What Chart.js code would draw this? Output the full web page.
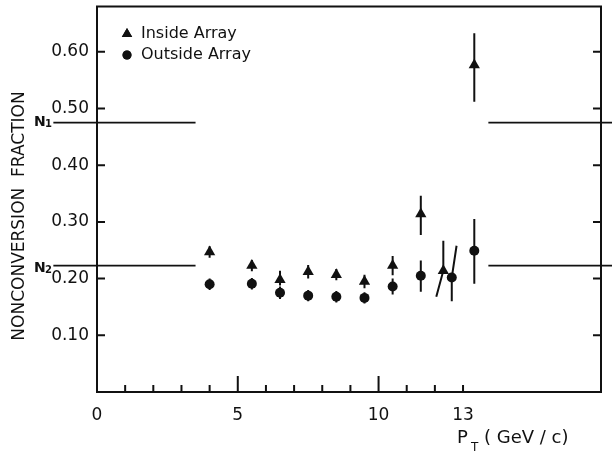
<!DOCTYPE html>
<html>
<head>
<meta charset="utf-8">
<script src="https://cdn.jsdelivr.net/npm/chart.js@4/dist/chart.umd.min.js"></script>
<style>
  html, body { margin: 0; padding: 0; background: #fff; }
  #wrap { width: 612px; height: 453px; }
</style>
</head>
<body>
<div id="wrap"><canvas id="frac" width="612" height="453"></canvas></div>
<script>
// nonconversion fraction vs transverse momentum
const insideX  = [4.0, 5.5, 6.5, 7.5, 8.5, 9.5, 10.5, 11.5, 12.3, 13.4];
const insideY  = [0.247, 0.223, 0.198, 0.212, 0.207, 0.195, 0.223, 0.314, 0.214, 0.577];
const insideLo = [0.237, 0.213, 0.188, 0.200, 0.197, 0.183, 0.206, 0.277, 0.168, 0.512];
const insideHi = [0.257, 0.233, 0.214, 0.224, 0.217, 0.207, 0.240, 0.346, 0.267, 0.633];
// x where each error bar ends (a couple are drawn slanted)
const insideLoX = [4.0, 5.5, 6.5, 7.5, 8.5, 9.5, 10.5, 11.5, 12.05, 13.4];
const insideHiX = [4.0, 5.5, 6.5, 7.5, 8.5, 9.5, 10.5, 11.5, 12.3, 13.4];

const outsideX  = [4.0, 5.5, 6.5, 7.5, 8.5, 9.5, 10.5, 11.5, 12.6, 13.4];
const outsideY  = [0.190, 0.191, 0.175, 0.170, 0.168, 0.166, 0.186, 0.205, 0.202, 0.249];
const outsideLo = [0.180, 0.181, 0.164, 0.160, 0.158, 0.156, 0.172, 0.177, 0.160, 0.191];
const outsideHi = [0.200, 0.201, 0.186, 0.180, 0.178, 0.176, 0.200, 0.232, 0.258, 0.305];
const outsideLoX = [4.0, 5.5, 6.5, 7.5, 8.5, 9.5, 10.5, 11.5, 12.6, 13.4];
const outsideHiX = [4.0, 5.5, 6.5, 7.5, 8.5, 9.5, 10.5, 11.5, 12.77, 13.4];

// reference levels N1, N2
const levelNames  = ['N', 'N'];
const levelSubs   = ['1', '2'];
const levelValues = [0.475, 0.223];

const xTickLabels = [0, 5, 10, 13];
const yTickLabels = [0.1, 0.2, 0.3, 0.4, 0.5, 0.6];

const INK = '#111';
const FONT = '"DejaVu Sans", sans-serif';

function errBars(ctx, xs, ys, lo, hi, loX, hiX, sx, sy) {
  ctx.beginPath();
  for (let i = 0; i < xs.length; i++) {
    ctx.moveTo(sx.getPixelForValue(loX[i]), sy.getPixelForValue(lo[i]));
    ctx.lineTo(sx.getPixelForValue(xs[i]), sy.getPixelForValue(ys[i]));
    ctx.lineTo(sx.getPixelForValue(hiX[i]), sy.getPixelForValue(hi[i]));
  }
  ctx.stroke();
}

const paperPlugin = {
  id: 'paper',
  beforeDatasetsDraw(chart) {
    const { ctx, scales: { x, y } } = chart;
    ctx.save();
    ctx.strokeStyle = INK;
    ctx.lineWidth = 2;
    errBars(ctx, insideX, insideY, insideLo, insideHi, insideLoX, insideHiX, x, y);
    errBars(ctx, outsideX, outsideY, outsideLo, outsideHi, outsideLoX, outsideHiX, x, y);
    ctx.restore();
  },
  afterDraw(chart) {
    const { ctx, chartArea: a, scales: { x, y } } = chart;
    ctx.save();
    ctx.strokeStyle = INK;
    ctx.fillStyle = INK;

    // frame
    ctx.lineWidth = 2;
    ctx.strokeRect(a.left, a.top, a.right - a.left, a.bottom - a.top);

    // inward ticks
    ctx.beginPath();
    for (let v = 1; v <= 13; v++) {
      const px = x.getPixelForValue(v);
      const len = v % 5 === 0 ? 16 : 7;
      ctx.moveTo(px, a.bottom);
      ctx.lineTo(px, a.bottom - len);
    }
    yTickLabels.forEach(v => {
      const py = y.getPixelForValue(v);
      ctx.moveTo(a.left, py); ctx.lineTo(a.left + 8, py);
      ctx.moveTo(a.right, py); ctx.lineTo(a.right - 8, py);
    });
    ctx.stroke();

    // level lines, broken across the data
    ctx.lineWidth = 1.8;
    ctx.beginPath();
    levelValues.forEach(v => {
      const py = y.getPixelForValue(v);
      ctx.moveTo(x.getPixelForValue(-1.55), py);
      ctx.lineTo(x.getPixelForValue(3.5), py);
      ctx.moveTo(x.getPixelForValue(13.9), py);
      ctx.lineTo(chart.width, py);
    });
    ctx.stroke();
    ctx.textBaseline = 'middle';
    levelValues.forEach((v, i) => {
      const py = y.getPixelForValue(v) + (i === 1 ? 3 : 0);
      ctx.font = 'bold 14px ' + FONT;
      ctx.textAlign = 'left';
      ctx.fillText(levelNames[i], 34, py);
      ctx.font = 'bold 10px ' + FONT;
      ctx.fillText(levelSubs[i], 45, py + 2);
    });

    // legend
    ctx.font = '16px ' + FONT;
    ctx.textAlign = 'left';
    const rows = [
      { style: 'triangle', r: 6, label: chart.data.datasets[0].label, yy: 34 },
      { style: 'circle', r: 4.5, label: chart.data.datasets[1].label, yy: 55 }
    ];
    rows.forEach(row => {
      Chart.helpers.drawPoint(ctx, { pointStyle: row.style, radius: row.r, borderWidth: 0 }, 127, row.yy);
      ctx.fill();
      ctx.fillText(row.label, 141, row.yy);
    });

    // y title
    ctx.save();
    ctx.translate(20, 216);
    ctx.rotate(-Math.PI / 2);
    ctx.textAlign = 'center';
    ctx.font = '17px ' + FONT;
    ctx.fillText('NONCONVERSION  FRACTION', 0, 0);
    ctx.restore();

    // x title with subscript
    ctx.textBaseline = 'alphabetic';
    ctx.textAlign = 'left';
    ctx.font = '18px ' + FONT;
    ctx.fillText('P', 457, 443);
    ctx.font = '12px ' + FONT;
    ctx.fillText('T', 471, 451);
    ctx.font = '18px ' + FONT;
    ctx.fillText('( GeV / c)', 484, 443);
    ctx.restore();
  }
};

new Chart(document.getElementById('frac'), {
  type: 'scatter',
  data: {
    datasets: [
      {
        label: 'Inside Array',
        data: insideX.map((v, i) => ({ x: v, y: insideY[i] })),
        pointStyle: 'triangle',
        pointRadius: 6.5,
        backgroundColor: INK,
        borderColor: INK,
        borderWidth: 0
      },
      {
        label: 'Outside Array',
        data: outsideX.map((v, i) => ({ x: v, y: outsideY[i] })),
        pointStyle: 'circle',
        pointRadius: 5,
        backgroundColor: INK,
        borderColor: INK,
        borderWidth: 0
      }
    ]
  },
  options: {
    responsive: false,
    animation: false,
    devicePixelRatio: 1,
    layout: { padding: { top: 5, right: 11, left: 0, bottom: 0 } },
    plugins: { legend: { display: false }, tooltip: { enabled: false } },
    scales: {
      x: {
        type: 'linear',
        min: 0,
        max: 17.9,
        grid: { display: false },
        border: { display: false },
        ticks: {
          stepSize: 1,
          autoSkip: false,
          maxRotation: 0,
          padding: 5,
          color: INK,
          font: { family: FONT, size: 17 },
          callback: v => xTickLabels.includes(v) ? String(v) : ''
        },
        afterFit: s => { s.height = 61; s.paddingLeft = 0; s.paddingRight = 0; }
      },
      y: {
        min: 0,
        max: 0.68,
        grid: { display: false },
        border: { display: false },
        ticks: {
          stepSize: 0.1,
          padding: 0,
          color: INK,
          font: { family: FONT, size: 17 },
          callback: v => yTickLabels.some(t => Math.abs(t - v) < 1e-6) ? v.toFixed(2) : ''
        },
        afterFit: s => { s.width = 97; s.paddingTop = 0; s.paddingBottom = 0; }
      }
    }
  },
  plugins: [paperPlugin]
});
</script>
</body>
</html>
